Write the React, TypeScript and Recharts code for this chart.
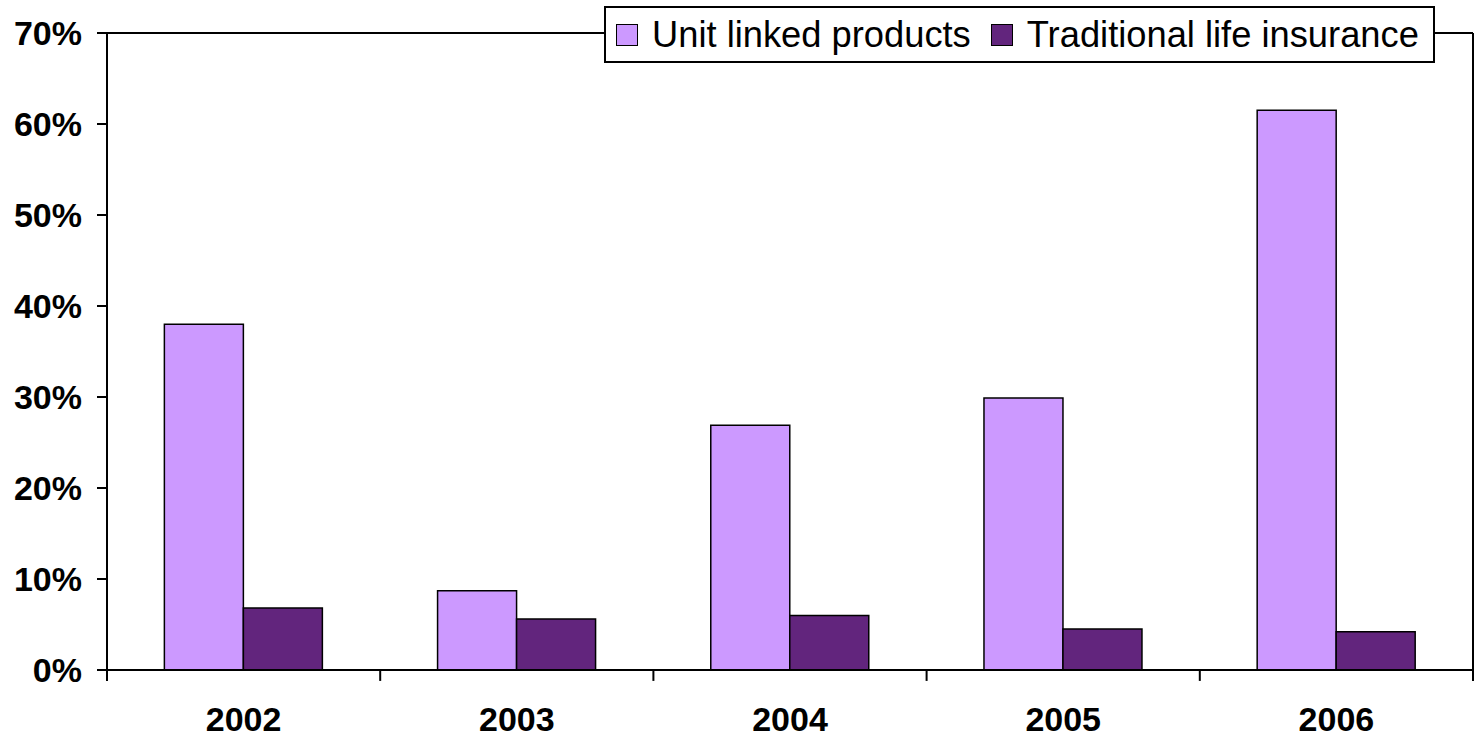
import React from "react";
import { BarChart, Bar, XAxis, YAxis, CartesianGrid, Legend, ReferenceLine } from "recharts";

const years = ["2002", "2003", "2004", "2005", "2006"];
const unitLinked = [38.0, 8.7, 26.9, 29.9, 61.5];
const traditional = [6.8, 5.6, 6.0, 4.5, 4.2];
const seriesNames = ["Unit linked products", "Traditional life insurance"];
const yTicks = [0, 10, 20, 30, 40, 50, 60, 70];

const FONT = "'Liberation Sans', Arial, Helvetica, sans-serif";
const LIGHT = "#CC99FF";
const DARK = "#62257D";
const TICK_DEPTH = -1.2; // tick mark below the 0% line, in axis units

const data = years.map((year, i) => ({
  year,
  unit: unitLinked[i],
  trad: traditional[i],
}));

function LegendBox({ payload }: any) {
  const items = [...(payload || [])].sort(
    (a: any, b: any) => seriesNames.indexOf(a.value) - seriesNames.indexOf(b.value)
  );
  return (
    <div
      style={{
        display: "flex",
        alignItems: "center",
        height: 53,
        padding: "0 14px 0 10px",
        border: "2px solid #000",
        background: "#fff",
        fontFamily: FONT,
        fontSize: 36.3,
        color: "#000",
        whiteSpace: "nowrap",
      }}
    >
      {items.map((p: any, i: number) => (
        <div key={i} style={{ display: "flex", alignItems: "center", marginLeft: i ? 20 : 0 }}>
          <span
            style={{
              display: "inline-block",
              width: 20,
              height: 20,
              background: p.color,
              border: "1px solid #000",
              marginRight: 14,
            }}
          />
          <span>{p.value}</span>
        </div>
      ))}
    </div>
  );
}

export default function App() {
  return (
    <div style={{ position: "absolute", left: 0, top: 0, background: "#fff" }}>
      <BarChart
        width={1475}
        height={738}
        data={data}
        margin={{ top: 33, right: 0, left: 0, bottom: 0 }}
        barCategoryGap="21%"
        barGap={0}
      >
        <CartesianGrid vertical={false} stroke="#000" strokeWidth={2} />
        <XAxis
          xAxisId="cat"
          dataKey="year"
          height={68}
          axisLine={{ stroke: "#000", strokeWidth: 2 }}
          tickLine={false}
          tickSize={0}
          tickMargin={37}
          tick={{ fill: "#000", fontSize: 34, fontWeight: "bold", fontFamily: FONT }}
        />
        <YAxis
          yAxisId="left"
          width={107}
          domain={[0, 70]}
          ticks={yTicks}
          tickFormatter={(v) => `${v}%`}
          tickSize={10}
          tickMargin={15}
          axisLine={{ stroke: "#000", strokeWidth: 2 }}
          tickLine={{ stroke: "#000", strokeWidth: 2 }}
          tick={{ fill: "#000", fontSize: 34, fontWeight: "bold", fontFamily: FONT }}
        />
        <YAxis
          yAxisId="right"
          orientation="right"
          width={2}
          domain={[0, 70]}
          tick={false}
          tickLine={false}
          axisLine={{ stroke: "#000", strokeWidth: 2 }}
        />
        {years.map((y) => (
          <ReferenceLine
            key={`s-${y}`}
            xAxisId="cat"
            yAxisId="left"
            position="start"
            ifOverflow="visible"
            segment={[{ x: y, y: 0 }, { x: y, y: TICK_DEPTH }]}
            stroke="#000"
            strokeWidth={2}
          />
        ))}
        <ReferenceLine
          xAxisId="cat"
          yAxisId="left"
          position="end"
          ifOverflow="visible"
          segment={[{ x: years[years.length - 1], y: 0 }, { x: years[years.length - 1], y: TICK_DEPTH }]}
          stroke="#000"
          strokeWidth={2}
        />
        <Legend
          layout="vertical"
          verticalAlign="middle"
          align="center"
          content={<LegendBox />}
          wrapperStyle={{ left: 604, top: 6, width: "auto", height: "auto" }}
        />
        <Bar
          xAxisId="cat"
          yAxisId="left"
          dataKey="unit"
          name={seriesNames[0]}
          fill={LIGHT}
          stroke="#000"
          strokeWidth={1.5}
          isAnimationActive={false}
        />
        <Bar
          xAxisId="cat"
          yAxisId="left"
          dataKey="trad"
          name={seriesNames[1]}
          fill={DARK}
          stroke="#000"
          strokeWidth={1.5}
          isAnimationActive={false}
        />
      </BarChart>
    </div>
  );
}
